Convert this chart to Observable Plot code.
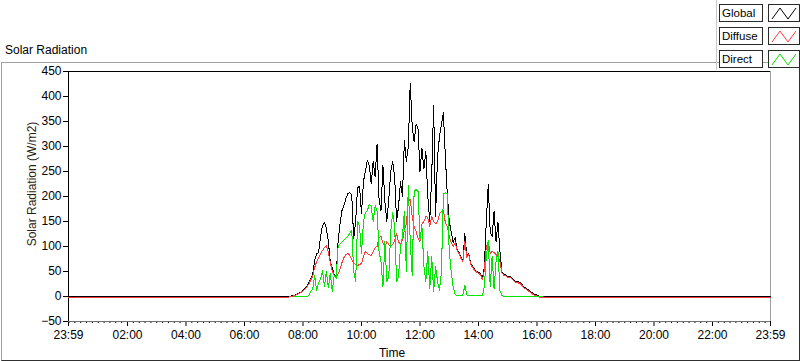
<!DOCTYPE html>
<html>
<head>
<meta charset="utf-8">
<script src="https://cdn.jsdelivr.net/npm/d3@7"></script>
<script src="https://cdn.jsdelivr.net/npm/@observablehq/plot@0.6"></script>
<style>
  html, body { margin: 0; padding: 0; background: #fff; }
  body { width: 800px; height: 361px; position: relative; overflow: hidden;
         font-family: "Liberation Sans", Arial, sans-serif; font-size: 12px; color: #000; }
  #title { position: absolute; left: 5px; top: 43px; font-size: 12px; white-space: nowrap; }
  #legend { position: absolute; left: 716px; top: 0; width: 84px; height: 70px; z-index: 3;
            border-left: 1px solid #c8c8c8; background: transparent; }
  .lrow { position: absolute; left: 2px; height: 18px; }
  .lbox { position: absolute; left: 0; top: 0; width: 44px; background: #fff;
          border: 1px solid #2a2a2a; box-sizing: border-box; height: 18px; font-size: 11.5px;
          line-height: 16px; padding-left: 2px; white-space: nowrap; overflow: hidden; }
  .lsw { position: absolute; left: 49px; top: 0; width: 32px; height: 18px; background: #fff;
         border: 1px solid #2a2a2a; box-sizing: border-box; }
  .lsw svg { display: block; }
  #frame { position: absolute; left: 1px; top: 62px; width: 799px; height: 299px; box-sizing: border-box;
           border: 1px solid #a0a0a0; border-bottom-color: #303030; border-right-color: #303030; }
  #chart svg { display: block; }
  #ylabel { position: absolute; left: 32px; top: 184px; transform: translate(-50%, -50%) rotate(-90deg);
            white-space: nowrap; font-size: 12px; color: #2b1d12; }
  #xlabel { position: absolute; left: 392px; top: 353px; transform: translate(-50%, -50%);
            font-size: 12px; white-space: nowrap; }
</style>
</head>
<body>
<div id="title">Solar Radiation</div>
<div id="legend"></div>
<div id="frame"><div id="chart"></div></div>
<div id="ylabel">Solar Radiation (W/m2)</div>
<div id="xlabel">Time</div>
<script>
// ---- data (minutes since midnight; -1 = 23:59 of the previous day, 1439 = 23:59) ----
const times = [-1,
  452,456,460,464,468,472,476,480,484,488,
  492,496,500,504,508,512,516,520,524,528,
  532,536,540,544,548,552,556,560,564,568,
  572,576,580,584,588,592,596,600,604,608,
  612,616,620,624,628,632,636,640,644,648,
  652,656,660,664,668,672,676,680,684,688,
  692,696,700,704,708,712,716,720,724,728,
  732,736,740,744,748,752,756,760,764,768,
  772,776,780,784,788,792,796,800,804,808,
  812,816,820,824,828,832,836,840,844,848,
  852,856,860,864,868,872,876,880,884,888,
  892,896,900,904,908,912,916,920,924,928,
  932,936,940,944,948,952,956,960,964,968,
  972,
  1439];

const globalRad = [0,
  0,1,2,3,5,7,9,12,16,20,
  27,36,44,72,85,88,120,142,148,136,
  110,70,58,44,40,110,145,172,182,196,
  206,208,204,115,150,218,220,165,230,250,
  272,262,225,270,240,305,195,172,262,190,
  150,195,250,270,240,150,180,230,200,312,
  270,300,427,340,310,345,335,250,296,255,
  290,200,150,240,382,160,280,320,345,368,
  280,205,150,130,108,118,95,88,78,72,
  126,80,86,66,60,54,50,48,46,36,
  60,150,224,130,120,170,110,148,90,50,
  44,44,40,40,38,34,30,30,28,26,
  20,18,15,12,9,6,4,3,1,0,
  0,
  0];

const diffuseRad = [-2,
  -1,0,1,2,4,6,8,11,15,19,
  25,33,41,58,70,78,85,92,98,102,
  88,68,52,42,38,45,55,68,78,84,
  86,82,74,66,64,62,64,66,80,90,
  86,84,82,90,98,100,118,120,108,100,
  110,104,100,104,112,126,108,106,112,132,
  146,190,195,160,140,130,116,110,145,150,
  160,158,140,160,150,145,150,165,170,172,
  148,140,120,108,100,108,92,86,76,70,
  110,78,84,64,58,52,49,46,44,34,
  52,100,110,86,90,88,84,80,70,48,
  42,42,38,38,36,32,28,28,26,24,
  18,16,13,10,7,4,2,1,-1,-2,
  -2,
  -2];

const directRad = [null,
  null,null,0,0,0,0,0,0,0,0,
  2,10,14,42,12,28,34,52,20,50,
  18,46,10,42,36,100,105,109,113,117,
  121,126,132,50,30,150,140,85,150,168,
  172,184,180,150,182,170,90,70,20,110,
  30,40,130,168,140,30,40,100,120,170,
  50,222,110,42,210,214,210,115,140,60,
  29,90,15,80,10,60,30,12,50,205,
  208,206,90,50,20,4,2,2,1,3,
  22,3,2,2,2,2,2,2,2,2,
  20,80,112,20,80,15,70,90,12,2,
  0,0,0,0,0,0,0,0,0,0,
  0,0,0,0,0,0,0,0,0,0,
  0,
  null];

const seriesNames = ["Global", "Diffuse", "Direct"];
const seriesColors = ["#000000", "#ff3c3c", "#00e400"];

const xTickValues = [-1, 120, 240, 360, 480, 600, 720, 840, 960, 1080, 1200, 1320, 1439];
const xTickLabels = ["23:59", "02:00", "04:00", "06:00", "08:00", "10:00", "12:00",
                     "14:00", "16:00", "18:00", "20:00", "22:00", "23:59"];
const yTickValues = [-50, 0, 50, 100, 150, 200, 250, 300, 350, 400, 450];

// ---- build ----
const rows = times.map((t, i) => ({
  t, global: globalRad[i], diffuse: diffuseRad[i], direct: directRad[i]
}));
const labelOf = new Map(xTickValues.map((v, i) => [v, xTickLabels[i]]));
const minorTicks = d3.range(0, 1440, 12).filter(v => v % 120 !== 0 || v === 0);

const chart = Plot.plot({
  width: 797,
  height: 297,
  marginLeft: 66,
  marginRight: 29,
  marginTop: 8,
  marginBottom: 39,
  style: { fontFamily: "'Liberation Sans', Arial, sans-serif", fontSize: "12px", color: "#000",
           background: "transparent", overflow: "visible" },
  x: { domain: [-1, 1439], label: null },
  y: { domain: [-50, 450], label: null },
  marks: [
    Plot.axisY(yTickValues, { tickSize: 5, tickPadding: 2, label: null, stroke: "#000" }),
    Plot.axisX(minorTicks, { tickSize: 2, tickFormat: () => "", label: null, stroke: "#000" }),
    Plot.axisX(xTickValues, { tickSize: 5, tickPadding: 4, tickFormat: d => labelOf.get(d), label: null, stroke: "#000" }),
    Plot.ruleY([-50], { stroke: "#707070" }),
    Plot.ruleX([1439], { stroke: "#a0a0a0" }),
    Plot.ruleY([450], { stroke: "#000" }),
    Plot.ruleX([-1], { stroke: "#000" }),
    Plot.line(rows, { x: "t", y: "global", stroke: seriesColors[0], strokeWidth: 1, shapeRendering: "crispEdges" }),
    Plot.line(rows, { x: "t", y: "diffuse", stroke: seriesColors[1], strokeWidth: 1, shapeRendering: "crispEdges" }),
    Plot.line(rows, { x: "t", y: "direct", stroke: seriesColors[2], strokeWidth: 1, shapeRendering: "crispEdges" })
  ]
});
document.getElementById("chart").appendChild(chart);

// ---- legend ----
const legend = document.getElementById("legend");
seriesNames.forEach((name, i) => {
  const row = document.createElement("div");
  row.className = "lrow";
  row.style.top = (4 + i * 23) + "px";
  row.innerHTML =
    `<div class="lbox">${name}</div>` +
    `<div class="lsw"><svg width="30" height="16"><polyline points="3,14 11,3 19,14 27,3" fill="none" stroke="${seriesColors[i]}" stroke-width="1"/></svg></div>`;
  legend.appendChild(row);
});
</script>
</body>
</html>
